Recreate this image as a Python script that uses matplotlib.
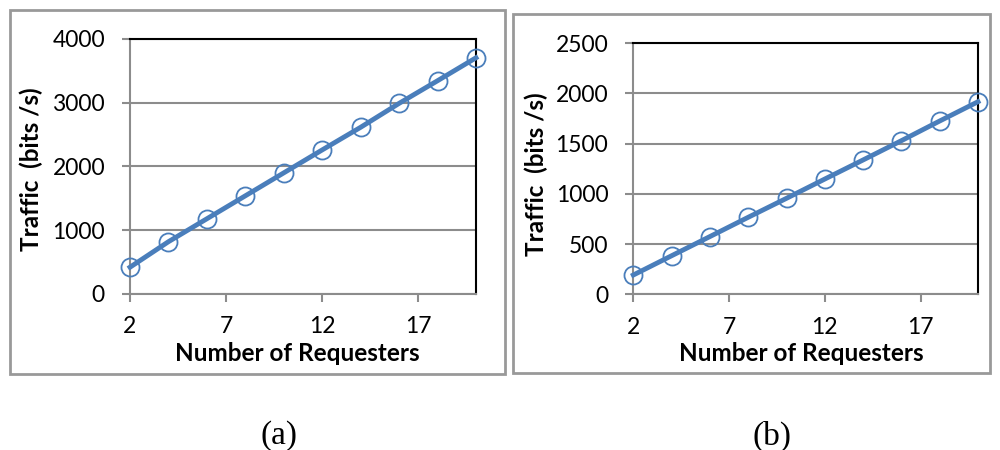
import matplotlib
matplotlib.use("Agg")
import matplotlib.pyplot as plt
from matplotlib.patches import Rectangle

plt.rcParams['font.family'] = ['Lato', 'DejaVu Sans']

# Traffic measured for a growing number of requesters
requesters = [2, 4, 6, 8, 10, 12, 14, 16, 18, 20]
traffic_a = [420, 820, 1180, 1540, 1900, 2260, 2615, 2990, 3345, 3705]
traffic_b = [192, 384, 575, 767, 956, 1148, 1338, 1530, 1726, 1918]

x_ticks = [2, 7, 12, 17]
y_ticks_a = [0, 1000, 2000, 3000, 4000]
y_ticks_b = [0, 500, 1000, 1500, 2000, 2500]

LINE_BLUE = '#4A7EBB'
GRID_GRAY = '#8C8C8C'
BOX_GRAY = '#999999'


def style_axes(ax, yticks):
    ax.set_xlim(2, 20)
    ax.set_ylim(yticks[0], yticks[-1])
    ax.set_xticks(x_ticks)
    ax.set_yticks(yticks)
    ax.yaxis.grid(True, color=GRID_GRAY, linewidth=1.5)
    ax.set_axisbelow(True)
    for side in ('left', 'bottom'):
        ax.spines[side].set_color(GRID_GRAY)
        ax.spines[side].set_linewidth(1.5)
    for side in ('top', 'right'):
        ax.spines[side].set_color('black')
        ax.spines[side].set_linewidth(1.5)
    ax.tick_params(axis='both', direction='out', length=6, width=1.5,
                   color=GRID_GRAY, labelsize=16.5)
    ax.tick_params(axis='x', pad=10)
    ax.tick_params(axis='y', pad=12)
    ax.set_xlabel('Number of Requesters', fontsize=17.5, fontweight='bold')
    ax.set_ylabel('Traffic  (bits /s)', fontsize=17.5, fontweight='bold')


def draw_series(ax, y):
    ax.plot(requesters, y, color=LINE_BLUE, linewidth=3.5, marker='o',
            markersize=13, markerfacecolor='none', markeredgecolor=LINE_BLUE,
            markeredgewidth=1.3, clip_on=False, zorder=3)


fig = plt.figure(figsize=(10, 4.5), dpi=100)

ax_a = fig.add_axes([0.130, 0.3467, 0.346, 0.5667])
draw_series(ax_a, traffic_a)
style_axes(ax_a, y_ticks_a)
ax_a.yaxis.set_label_coords(-0.251, 0.49)
ax_a.xaxis.set_label_coords(0.484, -0.19)

ax_b = fig.add_axes([0.6333, 0.346, 0.3447, 0.5578])
draw_series(ax_b, traffic_b)
style_axes(ax_b, y_ticks_b)
ax_b.yaxis.set_label_coords(-0.248, 0.48)
ax_b.xaxis.set_label_coords(0.4865, -0.192)

# gray frames around each chart
for x0, y0, x1, y1 in [(9.5, 10, 505, 373.5), (513, 14, 990, 373)]:
    fig.patches.append(Rectangle((x0 / 1000, 1 - y1 / 450),
                                 (x1 - x0) / 1000, (y1 - y0) / 450,
                                 transform=fig.transFigure, fill=False,
                                 edgecolor=BOX_GRAY, linewidth=2))

fig.text(0.279, 0.031, '(a)', family='Liberation Serif', fontsize=24,
         ha='center', va='center')
fig.text(0.772, 0.031, '(b)', family='Liberation Serif', fontsize=24,
         ha='center', va='center')

fig.savefig('out.png', dpi=100)
